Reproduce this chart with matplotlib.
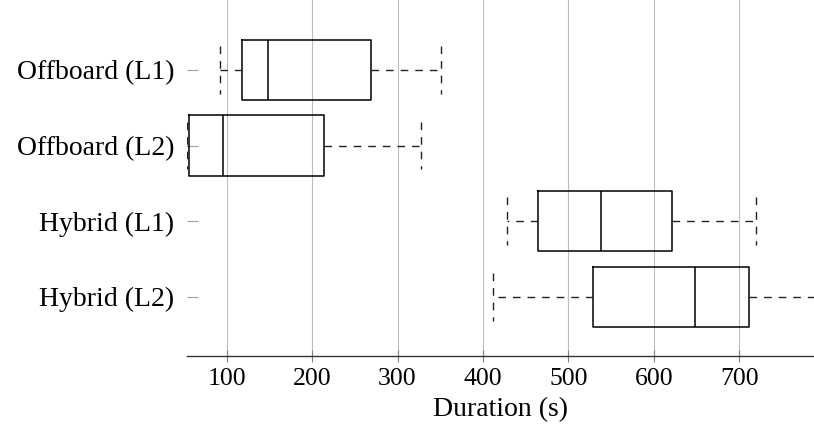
import matplotlib

matplotlib.use("Agg")
import matplotlib.pyplot as plt

plt.rcParams.update(
    {
        "font.family": ["Liberation Serif", "DejaVu Serif"],
        "font.size": 18.5,
    }
)

categories = ["Offboard (L1)", "Offboard (L2)", "Hybrid (L1)", "Hybrid (L2)"]
whisker_low = [92, 53, 428, 412]
quartile_1 = [118, 56, 464, 529]
median = [148, 96, 538, 648]
quartile_3 = [269, 214, 622, 712]
whisker_high = [351, 328, 720, 800]

x_ticks = [100, 200, 300, 400, 500, 600, 700]


def main() -> None:
    stats = []
    for i, name in enumerate(categories):
        stats.append(
            {
                "label": name,
                "whislo": whisker_low[i],
                "q1": quartile_1[i],
                "med": median[i],
                "q3": quartile_3[i],
                "whishi": whisker_high[i],
                "fliers": [],
            }
        )

    fig = plt.figure(figsize=(8.14, 4.34), dpi=100)
    ax = fig.add_axes([0.2294, 0.1804, 0.7706, 0.8196])

    dash = (0, (5.5, 5.0))
    positions = list(range(1, len(categories) + 1))
    ax.bxp(
        stats,
        positions=positions,
        orientation="horizontal",
        widths=0.8,
        capwidths=0.63,
        boxprops={"color": "black", "linewidth": 1.1},
        medianprops={"color": "black", "linewidth": 1.1},
        whiskerprops={"color": "#222222", "linewidth": 1.0, "linestyle": dash},
        capprops={"color": "#222222", "linewidth": 1.0, "linestyle": dash},
    )

    ax.set_xlim(53.2, 787.7)
    ax.set_ylim(4.78, 0.073)
    ax.set_xticks(x_ticks)
    ax.set_xticklabels([str(t) for t in x_ticks])
    ax.set_yticks(positions)
    ax.set_yticklabels(categories, fontsize=20)

    ax.grid(axis="x", color="#bdbdbd", linewidth=0.8)
    ax.set_axisbelow(True)
    for side in ("top", "right", "left"):
        ax.spines[side].set_visible(False)
    ax.spines["bottom"].set_color("#333333")
    ax.spines["bottom"].set_linewidth(1.0)

    ax.tick_params(axis="y", direction="in", length=8, color="#a0a0a0",
                   width=0.8, pad=9)
    ax.tick_params(axis="x", direction="inout", length=8, color="#808080",
                   width=0.8, pad=5)

    ax.set_xlabel("Duration (s)", fontsize=20, labelpad=5)

    fig.savefig("out.png", dpi=100)


if __name__ == "__main__":
    main()
